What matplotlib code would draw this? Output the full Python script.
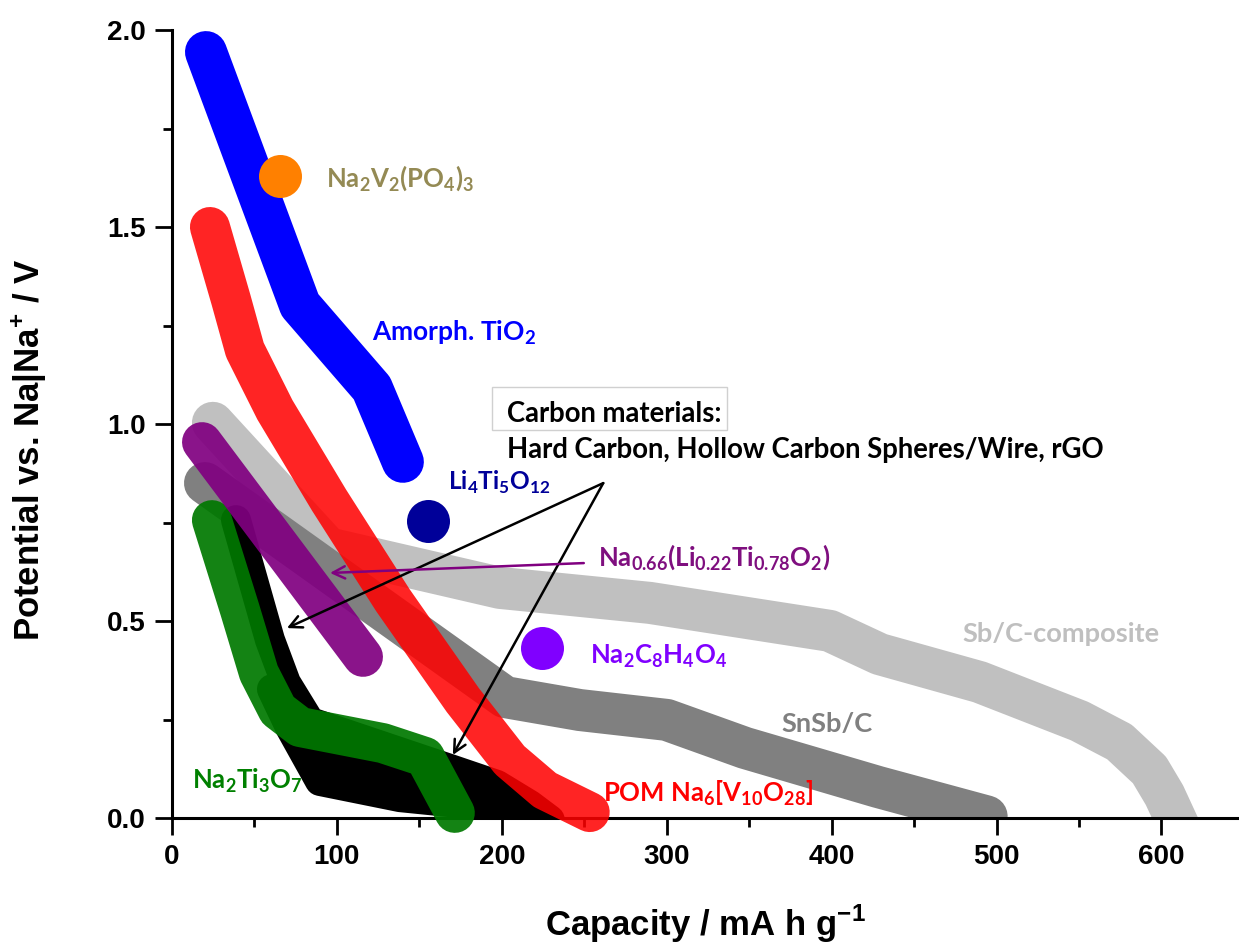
import matplotlib
matplotlib.use('Agg')
import matplotlib.pyplot as plt
from matplotlib.ticker import MultipleLocator, FormatStrFormatter
from matplotlib.patches import Rectangle

# ---------------- data (capacity in mA h g-1, potential in V) ----------------
sbc_cap = [24.8, 94.5, 198.8, 289.7, 398.8, 429.1, 489.7, 550.3, 574.5, 592.7, 601.8, 611.5]
sbc_v = [1.003, 0.685, 0.584, 0.546, 0.475, 0.416, 0.345, 0.246, 0.193, 0.122, 0.058, -0.030]

snsb_cap = [20.0, 201.8, 247.3, 300.0, 347.3, 427.9, 494.0]
snsb_v = [0.850, 0.307, 0.274, 0.249, 0.178, 0.079, 0.004]

carbon1_cap = [38.8, 59.4, 69.1, 83.6, 170.3, 197.0, 217.0, 229.1]
carbon1_v = [0.756, 0.452, 0.343, 0.244, 0.122, 0.084, 0.033, -0.005]
carbon2_cap = [65.5, 80.6, 97.6, 138.2, 180.6, 210.9]
carbon2_v = [0.299, 0.185, 0.147, 0.107, 0.066, 0.015]
carbon3_cap = [60.6, 71.5, 89.7, 138.2, 192.7]
carbon3_v = [0.327, 0.231, 0.094, 0.053, 0.030]

nti_cap = [24.2, 41.2, 52.7, 64.2, 77.6, 127.9, 153.3, 171.5]
nti_v = [0.756, 0.528, 0.368, 0.274, 0.231, 0.190, 0.155, 0.013]

pom_cap = [23.0, 35.8, 44.2, 62.4, 95.2, 133.9, 176.4, 204.8, 226.1, 253.3]
pom_v = [1.500, 1.315, 1.188, 1.036, 0.807, 0.553, 0.299, 0.147, 0.071, 0.015]

nlto_cap = [18.2, 115.8]
nlto_v = [0.954, 0.409]

tio2_cap = [20.6, 77.6, 121.2, 140.0]
tio2_v = [1.944, 1.302, 1.091, 0.904]

point_names = ['Na2V2(PO4)3', 'Li4Ti5O12', 'Na2C8H4O4']
point_cap = [65.5, 155.2, 224.2]
point_v = [1.629, 0.754, 0.431]

# ---------------- figure ----------------
W, H = 1239, 944
fig = plt.figure(figsize=(W / 100, H / 100), dpi=100)
ax = fig.add_axes([172 / W, 126 / H, 1067 / W, 788 / H])

PX = 0.72  # points per pixel

def band(x, y, color, lw_px, z, alpha=1.0, clip=True):
    ax.plot(x, y, color=color, lw=lw_px * PX, alpha=alpha, zorder=z,
            solid_capstyle='round', solid_joinstyle='round', clip_on=clip)

band(sbc_cap, sbc_v, '#C0C0C0', 42, 1)
band(snsb_cap, snsb_v, '#808080', 42, 2)
band(carbon1_cap, carbon1_v, '#000000', 30, 3)
band(carbon2_cap, carbon2_v, '#000000', 30, 3)
band(carbon3_cap, carbon3_v, '#000000', 30, 3)
band(nti_cap, nti_v, '#007800', 40, 4, alpha=0.92, clip=False)
band(pom_cap, pom_v, '#FF0000', 40, 5, alpha=0.86, clip=False)
band(nlto_cap, nlto_v, '#800080', 40, 6, alpha=0.92, clip=False)
band(tio2_cap, tio2_v, '#0000FF', 42, 7, clip=False)

point_colors = ['#FF8000', '#000099', '#8000FF']
for cx, cy, c in zip(point_cap, point_v, point_colors):
    ax.plot([cx], [cy], 'o', ms=43 * PX, color=c, mec='none', zorder=8, clip_on=False)

# ---------------- labels ----------------
FAM = ['Lato', 'DejaVu Sans']

def label(x, y, s, color, size):
    ax.text(x, y, s, color=color, ha='left', va='baseline', zorder=10,
            family=FAM, weight='bold', size=size)

def sub(t):
    return r'$_\mathdefault{%s}$' % t

label(93.5, 1.604, 'Na' + sub('2') + 'V' + sub('2') + '(PO' + sub('4') + ')' + sub('3'), '#948A54', 18.5)
label(121.2, 1.213, 'Amorph. TiO' + sub('2'), '#0000FF', 19)
label(167.3, 0.832, 'Li' + sub('4') + 'Ti' + sub('5') + 'O' + sub('12'), '#000099', 17.6)
label(203.0, 1.005, 'Carbon materials:', '#000000', 19.8)
label(203.0, 0.914, 'Hard Carbon, Hollow Carbon Spheres/Wire, rGO', '#000000', 19.8)
label(258.2, 0.642, 'Na' + sub('0.66') + '(Li' + sub('0.22') + 'Ti' + sub('0.78') + 'O' + sub('2') + ')', '#7F0F7F', 18.5)
label(253.3, 0.393, 'Na' + sub('2') + 'C' + sub('8') + 'H' + sub('4') + 'O' + sub('4'), '#8000FF', 18.5)
label(479.5, 0.447, 'Sb/C-composite', '#BFBFBF', 19.6)
label(369.7, 0.218, 'SnSb/C', '#808080', 19.6)
label(12.1, 0.076, 'Na' + sub('2') + 'Ti' + sub('3') + 'O' + sub('7'), '#008000', 18.5)
label(261.2, 0.041, 'POM Na' + sub('6') + '[V' + sub('10') + 'O' + sub('28') + ']', '#FF0000', 18.5)

ax.add_patch(Rectangle((193.8, 0.985), 143.0, 0.110, fill=False,
                       ec='#D0D0D0', lw=1.0, zorder=9))

# ---------------- arrows ----------------
origin = (261.5, 0.850)
for tip in [(69.7, 0.482), (170.3, 0.160)]:
    ax.annotate('', xy=tip, xytext=origin, zorder=11,
                arrowprops=dict(arrowstyle='->', lw=1.8, color='black',
                                mutation_scale=22, shrinkA=0, shrinkB=0))
ax.annotate('', xy=(95.8, 0.622), xytext=(249.7, 0.647), zorder=11,
            arrowprops=dict(arrowstyle='->', lw=1.8, color='#800080',
                            mutation_scale=22, shrinkA=0, shrinkB=0))

# ---------------- axes ----------------
ax.set_xlim(0, 647)
ax.set_ylim(0, 2.0)
for s in ['top', 'right']:
    ax.spines[s].set_visible(False)
for s in ['left', 'bottom']:
    ax.spines[s].set_linewidth(2.2)
ax.xaxis.set_major_locator(MultipleLocator(100))
ax.xaxis.set_minor_locator(MultipleLocator(50))
ax.yaxis.set_major_locator(MultipleLocator(0.5))
ax.yaxis.set_minor_locator(MultipleLocator(0.25))
ax.yaxis.set_major_formatter(FormatStrFormatter('%.1f'))
ax.tick_params(which='major', direction='out', length=12, width=2.0, pad=7)
ax.tick_params(which='minor', direction='out', length=6.5, width=2.0)
for t in ax.get_xticklabels() + ax.get_yticklabels():
    t.set_fontfamily('Liberation Sans')
    t.set_fontweight('bold')
    t.set_fontsize(20)

ax.set_xlabel(r'Capacity / mA h g$^{\mathdefault{-1}}$', fontfamily='Liberation Sans',
              fontweight='bold', fontsize=25)
ax.set_ylabel(r'Potential vs. Na|Na$^{\mathdefault{+}}$ / V', fontfamily='Liberation Sans',
              fontweight='bold', fontsize=25)
ax.xaxis.set_label_coords(0.5, -0.108)
ax.yaxis.set_label_coords(-0.115, 0.467)

fig.savefig('out.png', dpi=100)
